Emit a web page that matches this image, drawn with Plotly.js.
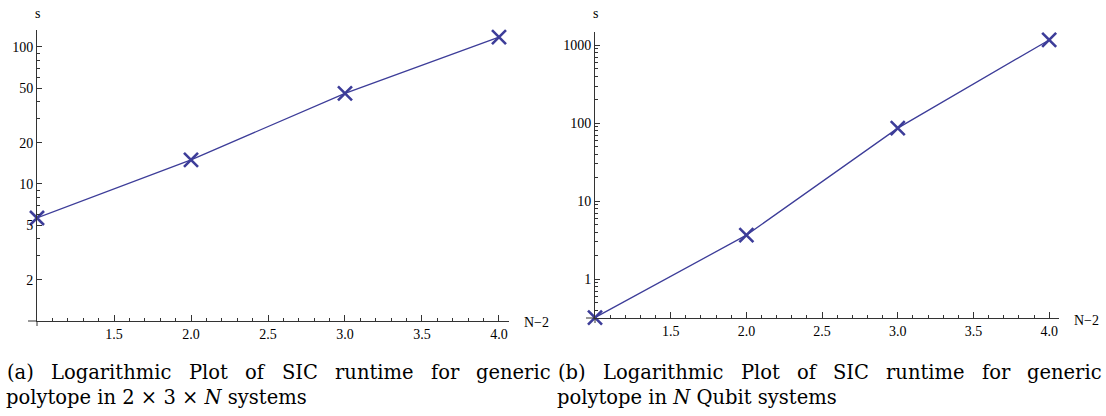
<!DOCTYPE html>
<html>
<head>
<meta charset="utf-8">
<script src="https://cdn.plot.ly/plotly-3.0.1.min.js"></script>
<style>html,body{margin:0;padding:0;background:#fff;}#chart{width:1106px;height:416px;}</style>
</head>
<body>
<div id="chart"></div>
<script>
// ---- data ----
const xValues = [1, 2, 3, 4];
const runtimeA = [5.65, 15.0, 45.9, 118];     // 2x3xN systems (s)
const runtimeB = [0.32, 3.66, 86.3, 1170];    // N qubit systems (s)
const xTickVals = [1.5, 2.0, 2.5, 3.0, 3.5, 4.0];
const xTickText = ["1.5", "2.0", "2.5", "3.0", "3.5", "4.0"];
const xMinorVals = [1.1,1.2,1.3,1.4,1.6,1.7,1.8,1.9,2.1,2.2,2.3,2.4,2.6,2.7,2.8,2.9,3.1,3.2,3.3,3.4,3.6,3.7,3.8,3.9];
const yTickValsA = [2, 5, 10, 20, 50, 100];
const yTickTextA = ["2", "5", "10", "20", "50", "100"];
const yMinorValsA = [3,4,6,7,8,9,30,40,60,70,80,90];
const yTickValsB = [1, 10, 100, 1000];
const yTickTextB = ["1", "10", "100", "1000"];
const yMinorValsB = [0.4,0.5,0.6,0.7,0.8,0.9,2,3,4,5,6,7,8,9,20,30,40,50,60,70,80,90,200,300,400,500,600,700,800,900];
const captionA1 = ["(a)", "Logarithmic", "Plot", "of", "SIC", "runtime", "for", "generic"];
const captionA2 = "polytope in 2 × 3 × <i>N</i> systems";
const captionB1 = ["(b)", "Logarithmic", "Plot", "of", "SIC", "runtime", "for", "generic"];
const captionB2 = "polytope in <i>N</i> Qubit systems";
const xTitle = "N\u22122";
const yTitle = "s";

const blue = "#3d3d99";
const axisColor = "#333";
const tickFont = {family: "Liberation Serif, Times New Roman, serif", size: 14, color: "#000"};
const capFont = {family: "DejaVu Serif, serif", size: 19.5, color: "#000"};

function trace(y, xa, ya) {
  return {
    x: xValues, y: y, xaxis: xa, yaxis: ya, type: "scatter", mode: "lines+markers",
    line: {color: blue, width: 1.3},
    marker: {symbol: "x-thin", size: 14, color: blue, line: {color: blue, width: 2.6}},
    cliponaxis: false, showlegend: false, hoverinfo: "skip"
  };
}
function xaxis(domain, anchor) {
  return {
    domain: domain, anchor: anchor, range: [1, 4.065],
    showgrid: false, zeroline: false, showline: true, linecolor: axisColor, linewidth: 1,
    ticks: "inside", ticklen: 6, tickwidth: 1, tickcolor: axisColor,
    tickmode: "array", tickvals: xTickVals, ticktext: xTickText, tickfont: tickFont,
    minor: {tickmode: "array", tickvals: xMinorVals, ticks: "inside", ticklen: 3.5, tickwidth: 1, tickcolor: axisColor, showgrid: false}
  };
}
function yaxis(domain, anchor, range, tv, tt, mv) {
  return {
    domain: domain, anchor: anchor, type: "log", range: range,
    showgrid: false, zeroline: false, showline: true, linecolor: axisColor, linewidth: 1,
    ticks: "inside", ticklen: 5, tickwidth: 1, tickcolor: axisColor,
    tickmode: "array", tickvals: tv, ticktext: tt, tickfont: tickFont,
    minor: {tickmode: "array", tickvals: mv, ticks: "inside", ticklen: 3, tickwidth: 1, tickcolor: axisColor, showgrid: false}
  };
}
function ann(text, x, y, xanchor, yanchor, font) {
  return {text: text, x: x, y: y, xref: "paper", yref: "paper", xanchor: xanchor, yanchor: yanchor, showarrow: false, font: font};
}
function px(x) { return x / 1106; }
function py(y) { return 1 - y / 416; }
function seg(x0, y0, x1, y1) {
  return {type: "line", xref: "paper", yref: "paper", x0: px(x0), y0: py(y0), x1: px(x1), y1: py(y1), line: {color: axisColor, width: 1}};
}

// justify a caption line between two pixel edges (like the LaTeX source)
const ctx = document.createElement("canvas").getContext("2d");
ctx.font = capFont.size + "px 'DejaVu Serif'";
function justified(words, left, right, y) {
  const widths = words.map(w => ctx.measureText(w).width);
  const total = widths.reduce((a, b) => a + b, 0);
  const gap = (right - left - total) / (words.length - 1);
  const out = [];
  let cur = left;
  words.forEach((w, i) => {
    out.push(ann(w, px(cur - 1), py(y), "left", "middle", capFont));
    cur += widths[i] + gap;
  });
  return out;
}

const annotations = [
  ann(yTitle, px(37), py(14), "center", "middle", tickFont),
  ann(xTitle, px(522), py(322), "left", "middle", tickFont),
  ann(yTitle, px(595), py(14), "center", "middle", tickFont),
  ann(xTitle, px(1072), py(320), "left", "middle", tickFont),
  ann(captionA2, px(4), py(397), "left", "middle", capFont),
  ann(captionB2, px(555), py(397), "left", "middle", capFont)
].concat(justified(captionA1, 6, 550, 372), justified(captionB1, 557, 1101, 372));

const layout = {
  width: 1106, height: 416, margin: {l: 0, r: 0, t: 0, b: 0},
  paper_bgcolor: "#fff", plot_bgcolor: "#fff",
  xaxis: xaxis([px(37), px(509)], "y"),
  yaxis: yaxis([py(321), py(30)], "x", [0, 2.124], yTickValsA, yTickTextA, yMinorValsA),
  xaxis2: xaxis([px(595), px(1059)], "y2"),
  yaxis2: yaxis([py(318), py(31.7)], "x2", [-0.5, 3.174], yTickValsB, yTickTextB, yMinorValsB),
  shapes: [seg(28, 321, 37, 321), seg(37, 321, 37, 326), seg(586, 318, 595, 318), seg(595, 318, 595, 323)],
  annotations: annotations
};

Plotly.newPlot("chart", [trace(runtimeA, "x", "y"), trace(runtimeB, "x2", "y2")], layout, {staticPlot: true, displayModeBar: false});
</script>
</body>
</html>
